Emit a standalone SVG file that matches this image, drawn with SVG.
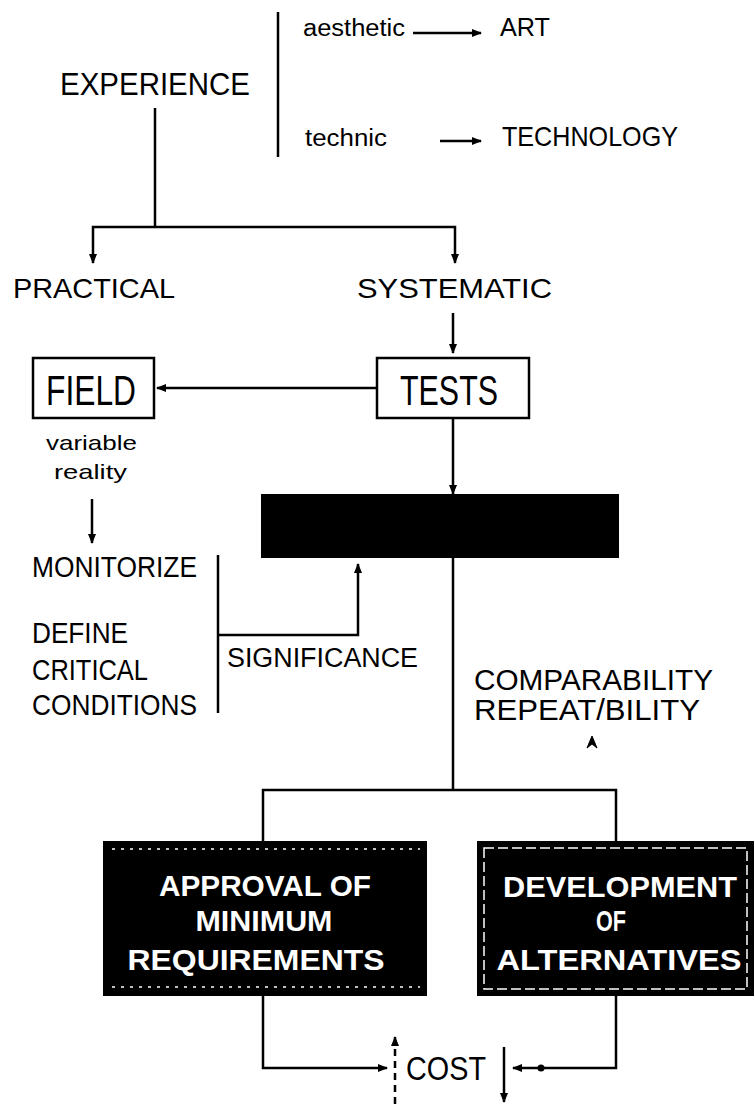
<svg xmlns="http://www.w3.org/2000/svg" width="755" height="1104" viewBox="0 0 755 1104">
  <style>
    text { font-family: "Liberation Sans", Arial, Helvetica, sans-serif; fill: #000; }
    .box { fill: #fff; stroke: #000; stroke-width: 2.5; }
    .dark { fill: #000; stroke: #000; stroke-width: 2; }
    .wt { fill: #fff; font-size: 30px; font-weight: bold; text-anchor: middle; }
    .ln { fill: none; stroke: #000; stroke-width: 2.5; }
    .dash { fill: none; stroke: #000; stroke-width: 2.5; stroke-dasharray: 7 5; }
    .speck { fill: none; stroke: #fff; stroke-width: 1.5; stroke-dasharray: 3 6; }
  </style>
  <defs>
    <marker id="ah" viewBox="0 0 10 8" refX="9" refY="4" markerWidth="10" markerHeight="8" markerUnits="userSpaceOnUse" orient="auto">
      <path d="M0,0 L10,4 L0,8 z" fill="#000"/>
    </marker>
  </defs>

  <!-- top: experience split into art / technology -->
  <g id="experience">
    <text x="60" y="95" font-size="32" textLength="190" lengthAdjust="spacingAndGlyphs">EXPERIENCE</text>
  </g>
  <g id="art-branch">
    <text x="303" y="36" font-size="23" textLength="102" lengthAdjust="spacingAndGlyphs">aesthetic</text>
    <text x="500" y="36" font-size="25" textLength="50" lengthAdjust="spacingAndGlyphs">ART</text>
  </g>
  <g id="tech-branch">
    <text x="305" y="146" font-size="23" textLength="82" lengthAdjust="spacingAndGlyphs">technic</text>
    <text x="502" y="146" font-size="28" textLength="176" lengthAdjust="spacingAndGlyphs">TECHNOLOGY</text>
  </g>

  <g id="practical">
    <text x="13" y="298" font-size="28" textLength="162" lengthAdjust="spacingAndGlyphs">PRACTICAL</text>
  </g>
  <g id="systematic">
    <text x="357" y="298" font-size="28" textLength="195" lengthAdjust="spacingAndGlyphs">SYSTEMATIC</text>
  </g>

  <g id="field">
    <rect x="33" y="358" width="121" height="60" class="box"/>
    <text x="46" y="405" font-size="43" textLength="90" lengthAdjust="spacingAndGlyphs">FIELD</text>
  </g>
  <g id="field-note">
    <text x="46" y="450" font-size="21" textLength="91" lengthAdjust="spacingAndGlyphs">variable</text>
    <text x="54" y="479" font-size="21" textLength="73" lengthAdjust="spacingAndGlyphs">reality</text>
  </g>
  <g id="tests">
    <rect x="377" y="358" width="152" height="60" class="box"/>
    <text x="400" y="405" font-size="43" textLength="98" lengthAdjust="spacingAndGlyphs">TESTS</text>
  </g>

  <g id="standard-box">
    <rect x="262" y="495" width="356" height="62" class="dark"/>
  </g>

  <g id="field-actions">
    <text x="32" y="577" font-size="30" textLength="165" lengthAdjust="spacingAndGlyphs">MONITORIZE</text>
    <text x="32" y="643" font-size="30" textLength="96" lengthAdjust="spacingAndGlyphs">DEFINE</text>
    <text x="32" y="680" font-size="30" textLength="116" lengthAdjust="spacingAndGlyphs">CRITICAL</text>
    <text x="32" y="715" font-size="30" textLength="165" lengthAdjust="spacingAndGlyphs">CONDITIONS</text>
  </g>
  <g id="significance">
    <text x="227" y="667" font-size="27" textLength="191" lengthAdjust="spacingAndGlyphs">SIGNIFICANCE</text>
  </g>
  <g id="comparability">
    <text x="474" y="690" font-size="29" textLength="239" lengthAdjust="spacingAndGlyphs">COMPARABILITY</text>
    <text x="474" y="720" font-size="29" textLength="226" lengthAdjust="spacingAndGlyphs">REPEAT/BILITY</text>
    <path d="M587,748 L592,736 L597,748 L592,744 z" fill="#000" stroke="#000" stroke-width="1"/>
  </g>

  <g id="approval">
    <rect x="104" y="842" width="322" height="153" class="dark"/>
    <path d="M112,849 H420 M112,987 H420" class="speck"/>
    <text x="265" y="896" class="wt" textLength="212" lengthAdjust="spacingAndGlyphs">APPROVAL OF</text>
    <text x="264" y="931" class="wt" textLength="137" lengthAdjust="spacingAndGlyphs">MINIMUM</text>
    <text x="256" y="970" class="wt" textLength="257" lengthAdjust="spacingAndGlyphs">REQUIREMENTS</text>
  </g>
  <g id="alternatives">
    <rect x="478" y="842" width="275" height="153" class="dark"/>
    <rect x="484" y="848" width="263" height="141" fill="none" stroke="#fff" stroke-width="1.5" stroke-dasharray="10 4"/>
    <text x="620" y="897" class="wt" textLength="234" lengthAdjust="spacingAndGlyphs">DEVELOPMENT</text>
    <text x="611" y="931" class="wt" textLength="30" lengthAdjust="spacingAndGlyphs">OF</text>
    <text x="619" y="970" class="wt" textLength="245" lengthAdjust="spacingAndGlyphs">ALTERNATIVES</text>
  </g>

  <g id="cost">
    <text x="406" y="1080" font-size="34" textLength="80" lengthAdjust="spacingAndGlyphs">COST</text>
  </g>

  <g id="connectors">
    <!-- top bracket and its two arrows -->
    <path d="M278,12 V157" class="ln"/>
    <path d="M413,33 H481" class="ln" marker-end="url(#ah)"/>
    <path d="M440,141 H481" class="ln" marker-end="url(#ah)"/>
    <!-- experience tree -->
    <path d="M155,108 V227" class="ln"/>
    <path d="M155,227 H93 V263" class="ln" marker-end="url(#ah)"/>
    <path d="M155,227 H455 V263" class="ln" marker-end="url(#ah)"/>
    <!-- systematic to tests -->
    <path d="M453,313 V353" class="ln" marker-end="url(#ah)"/>
    <!-- tests to field -->
    <path d="M377,388 H157" class="ln" marker-end="url(#ah)"/>
    <!-- tests to standard box -->
    <path d="M453,418 V494" class="ln" marker-end="url(#ah)"/>
    <!-- field note to monitorize -->
    <path d="M92,499 V543" class="ln" marker-end="url(#ah)"/>
    <!-- bracket of field actions and significance feedback -->
    <path d="M218,555 V713" class="ln"/>
    <path d="M218,635 H358 V564" class="ln" marker-end="url(#ah)"/>
    <!-- standard box down to the two outcomes -->
    <path d="M453,557 V790" class="ln"/>
    <path d="M263,842 V790 H616 V842" class="ln"/>
    <!-- outcomes to cost -->
    <path d="M263,995 V1068 H387" class="ln" marker-end="url(#ah)"/>
    <path d="M616,995 V1068 H513" class="ln" marker-end="url(#ah)"/>
    <circle cx="541" cy="1068" r="3.5" fill="#000"/>
    <path d="M395,1104 V1037" class="dash" marker-end="url(#ah)"/>
    <path d="M504,1047 V1102" class="ln" marker-end="url(#ah)"/>
  </g>
</svg>
